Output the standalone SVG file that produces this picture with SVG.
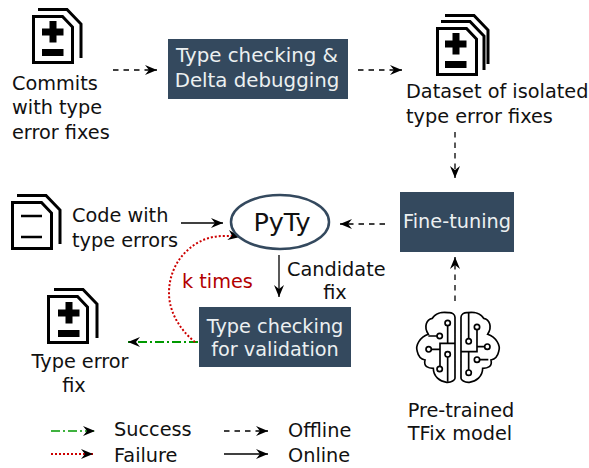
<svg xmlns="http://www.w3.org/2000/svg" width="589" height="468" viewBox="0 0 589 468">
<style>
text{font-family:"DejaVu Sans",sans-serif;font-size:19.300px;fill:#111}
.w{fill:#ecf0f1;text-anchor:middle}
.box{fill:#34495e}
.ic{fill:none;stroke:#000;stroke-width:3}
.c{stroke:#000;stroke-width:1.300;fill:none}
.dash{stroke-dasharray:5.500 5}
.b{fill:none;stroke:#000;stroke-width:5}
</style>
<defs>
<marker id="a" markerUnits="userSpaceOnUse" markerWidth="15" markerHeight="12" refX="12" refY="5" orient="auto"><path d="M0 0L12 5L0 10L4 5Z" fill="#000"/></marker>
<g id="page"><path class="ic" d="M1.500 1.500H30.500L40.500 12V47.500H1.500Z"/></g>
<g id="back"><path class="ic" d="M0 1.500H29L43 16V50"/></g>
<g id="pm"><path d="M7.500 0H14.500V7.500H21.500V14.500H14.500V21.500H7.500V14.500H0V7.500H7.500Z"/><rect y="28" width="21.500" height="7"/></g>
</defs>
<g id="connectors">
<path class="c dash" marker-end="url(#a)" d="M113 70H157"/>
<path class="c dash" marker-end="url(#a)" d="M358 70H402"/>
<path class="c dash" marker-end="url(#a)" d="M455 132V178"/>
<path class="c dash" marker-end="url(#a)" d="M385 224H340"/>
<path class="c dash" marker-end="url(#a)" d="M455 301V257"/>
<path class="c" marker-end="url(#a)" d="M181 223H223"/>
<path class="c" marker-end="url(#a)" d="M279 255V297"/>
<path class="c" stroke-dasharray="9 3 2 3" style="stroke:#090;stroke-width:2" marker-end="url(#a)" d="M198 342H128"/>
<path class="c" stroke-dasharray="2 2" style="stroke:#c00;stroke-width:2" marker-end="url(#a)" d="M195 342C180 330 169 312 169 293C169 260 195 236 223 236C229 236 234 236 240 237"/>
<path class="c" stroke-dasharray="9 3 2 3" style="stroke:#090" marker-end="url(#a)" d="M51 431H95"/>
<path class="c" stroke-dasharray="2 2" style="stroke:#c00;stroke-width:2" marker-end="url(#a)" d="M51 454H93"/>
<path class="c dash" marker-end="url(#a)" d="M224 431H268"/>
<path class="c" marker-end="url(#a)" d="M224 454H268"/>
</g>
<g id="commits">
<use href="#back" x="38" y="8"/><use href="#page" x="32" y="15"/><use href="#pm" x="42" y="21"/>
<text x="12" y="90">Commits</text><text x="12" y="114">with type</text><text x="12" y="139">error fixes</text>
</g>
<g id="type-checking"><rect class="box" x="168" y="39" width="180" height="60"/>
<text class="w" x="257" y="62" style="font-size:19.800px">Type checking &amp;</text><text class="w" x="257" y="87" style="font-size:19.800px">Delta debugging</text></g>
<g id="dataset">
<use href="#back" x="445" y="14"/><use href="#back" x="441" y="20"/><use href="#page" x="436" y="27"/><use href="#pm" x="445" y="33"/>
<text x="406" y="98">Dataset of isolated</text><text x="406" y="123">type error fixes</text>
</g>
<g id="code">
<use href="#back" x="17" y="194"/><use href="#page" x="11" y="201"/>
<path d="M21 216H42M21 237H42" stroke="#000" stroke-width="2.500"/>
<text x="72" y="222">Code with</text><text x="72" y="247">type errors</text>
</g>
<g id="pyty"><ellipse cx="280" cy="222" rx="49" ry="27" fill="#fff" stroke="#34495e" stroke-width="2.500"/>
<text x="282" y="231" text-anchor="middle" style="font-size:25.500px">PyTy</text></g>
<g id="fine-tuning"><rect class="box" x="400" y="192" width="114" height="60"/>
<text class="w" x="457" y="228">Fine-tuning</text></g>
<g id="validation"><rect class="box" x="199" y="307" width="152" height="60"/>
<text class="w" x="275" y="333">Type checking</text><text class="w" x="275" y="356">for validation</text></g>
<text x="287" y="276">Candidate</text><text x="335" y="299" text-anchor="middle">fix</text>
<text x="182" y="288" style="fill:#b30000">k times</text>
<g id="fix">
<use href="#back" x="54" y="288"/><use href="#page" x="47" y="295"/><use href="#pm" x="58" y="302"/>
<text x="80" y="368" text-anchor="middle">Type error</text><text x="74" y="392" text-anchor="middle">fix</text>
</g>
<g id="tfix">
<g transform="translate(400 300) scale(.3333)">
<path class="b" d="M165 235V52C165 42 155 37 145 38C125 35 105 40 97 55C80 58 70 80 85 103C60 112 45 135 52 155C55 170 65 178 75 180C70 200 85 205 100 205C100 230 120 245 140 247C155 248 165 240 165 235Z"/>
<path class="b" d="M183 235V52C183 42 193 37 203 38C223 35 243 40 251 55C268 58 278 80 263 103C288 112 303 135 296 155C293 170 283 178 273 180C278 200 263 205 248 205C248 230 228 245 208 247C193 248 183 240 183 235Z"/>
<path class="b" d="M143 77V130H120V199M111 108H85M94 148H120M120 130H165M143 171V245M206 116V38M231 89V155H183M206 155V210M254 140H231M239 179H265"/>
<g class="b"><circle cx="143" cy="69" r="8"/><circle cx="119" cy="108" r="8"/><circle cx="86" cy="148" r="8"/><circle cx="143" cy="163" r="8"/><circle cx="119" cy="207" r="8"/><circle cx="206" cy="124" r="8"/><circle cx="231" cy="81" r="8"/><circle cx="262" cy="140" r="8"/><circle cx="231" cy="179" r="8"/><circle cx="206" cy="218" r="8"/></g>
</g>
<text x="461" y="417" text-anchor="middle">Pre-trained</text><text x="460" y="440" text-anchor="middle">TFix model</text>
</g>
<g id="legend">
<text x="114" y="436">Success</text><text x="114" y="462">Failure</text><text x="288" y="437">Offline</text><text x="288" y="462">Online</text>
</g>
</svg>
